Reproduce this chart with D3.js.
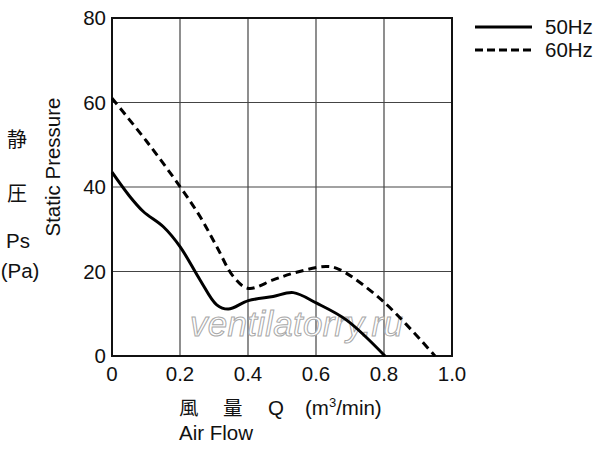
<!DOCTYPE html>
<html>
<head>
<meta charset="utf-8">
<script src="https://cdn.jsdelivr.net/npm/d3@7"></script>
<style>
  body { margin: 0; background: #fff; }
  text { font-family: "Liberation Sans", Arial, sans-serif; fill: #111; }
  .cjk { font-family: "Noto Sans CJK JP", sans-serif; }
</style>
</head>
<body>
<script>
// air flow (m3/min) vs static pressure (Pa)
var flow50 = [0, 0.05, 0.092, 0.151, 0.2, 0.259, 0.308, 0.342, 0.401, 0.474, 0.533, 0.602, 0.69, 0.803]
var pres50 = [43.5, 38, 34.2, 30.6, 25.9, 18, 12.1, 11.1, 13.1, 14.1, 15, 12.5, 8.5, 0]

var flow60 = [0, 0.1, 0.2, 0.259, 0.308, 0.357, 0.401, 0.474, 0.533, 0.631, 0.671, 0.798, 0.95]
var pres60 = [61, 51, 40.1, 33, 25.9, 18.8, 16, 18, 19.6, 21.2, 20.4, 12.9, 0]

var xTicks = [0, 0.2, 0.4, 0.6, 0.8, 1.0]
var yTicks = [0, 20, 40, 60, 80]
var seriesNames = ["50Hz", "60Hz"]

var width = 600, height = 449
var margin = { top: 18, right: 148, bottom: 93, left: 112 }

var svg = d3.select("body").append("svg")
  .attr("width", width)
  .attr("height", height)

var x = d3.scaleLinear().domain([0, 1]).range([margin.left, width - margin.right])
var y = d3.scaleLinear().domain([0, 80]).range([height - margin.bottom, margin.top])

// grid
var grid = svg.append("g")
grid.selectAll(".vx").data(xTicks.slice(1, -1)).enter().append("line")
  .attr("x1", function(d) { return x(d) }).attr("x2", function(d) { return x(d) })
  .attr("y1", y(0)).attr("y2", y(80))
  .style("stroke", "#444").style("stroke-width", 1.2)
grid.selectAll(".hy").data(yTicks.slice(1, -1)).enter().append("line")
  .attr("x1", x(0)).attr("x2", x(1))
  .attr("y1", function(d) { return y(d) }).attr("y2", function(d) { return y(d) })
  .style("stroke", "#444").style("stroke-width", 1.2)

// frame
svg.append("rect")
  .attr("x", x(0)).attr("y", y(80))
  .attr("width", x(1) - x(0)).attr("height", y(0) - y(80))
  .style("fill", "none").style("stroke", "#111").style("stroke-width", 2)

// tick labels
svg.append("g").selectAll("text").data(yTicks).enter().append("text")
  .attr("x", x(0) - 6)
  .attr("y", function(d) { return y(d) + 7 })
  .attr("text-anchor", "end")
  .attr("font-size", "20.5px")
  .text(function(d) { return d })

var fmt = d3.format(".1f")
svg.append("g").selectAll("text").data(xTicks).enter().append("text")
  .attr("x", function(d) { return x(d) })
  .attr("y", 381)
  .attr("text-anchor", "middle")
  .attr("font-size", "20.5px")
  .text(function(d) { return d === 0 ? "0" : fmt(d) })

// watermark
svg.append("text")
  .attr("x", 190).attr("y", 336)
  .attr("font-size", "35px")
  .attr("font-style", "italic")
  .attr("textLength", 213)
  .style("fill", "#fff")
  .style("stroke", "#a8a8a8")
  .style("stroke-width", 1)
  .text("ventilatorry.ru")

// curves
var line = d3.line()
  .x(function(d) { return x(d[0]) })
  .y(function(d) { return y(d[1]) })
  .curve(d3.curveCatmullRom.alpha(0.5))

svg.append("path")
  .datum(d3.zip(flow50, pres50))
  .attr("d", line)
  .style("fill", "none").style("stroke", "#000").style("stroke-width", 3)

svg.append("path")
  .datum(d3.zip(flow60, pres60))
  .attr("d", line)
  .style("fill", "none").style("stroke", "#000").style("stroke-width", 3)
  .style("stroke-dasharray", "8,5")

// legend
var legend = svg.append("g").selectAll("g").data(seriesNames).enter().append("g")
  .attr("transform", function(d, i) { return "translate(475," + (27 + i * 23) + ")" })
legend.append("line")
  .attr("x1", 0).attr("x2", 57)
  .style("stroke", "#000").style("stroke-width", 3)
  .style("stroke-dasharray", function(d, i) { return i ? "8,4" : null })
legend.append("text")
  .attr("x", 70).attr("y", 7)
  .attr("font-size", "20.5px")
  .text(function(d) { return d })

// y axis title
svg.append("text")
  .attr("transform", "translate(60,167) rotate(-90)")
  .attr("text-anchor", "middle")
  .attr("font-size", "20.5px")
  .text("Static Pressure")
svg.append("text").attr("class", "cjk").attr("x", 17).attr("y", 147)
  .attr("text-anchor", "middle").attr("font-size", "20px").text("静")
svg.append("text").attr("class", "cjk").attr("x", 17).attr("y", 201)
  .attr("text-anchor", "middle").attr("font-size", "20px").text("圧")
svg.append("text").attr("x", 18).attr("y", 248)
  .attr("text-anchor", "middle").attr("font-size", "20.5px").text("Ps")
svg.append("text").attr("x", 20).attr("y", 278)
  .attr("text-anchor", "middle").attr("font-size", "20.5px").text("(Pa)")

// x axis title
svg.append("text").attr("class", "cjk").attr("x", 179).attr("y", 415)
  .attr("font-size", "19.5px").text("風")
svg.append("text").attr("class", "cjk").attr("x", 223).attr("y", 415)
  .attr("font-size", "19.5px").text("量")
var xt = svg.append("text").attr("x", 268).attr("y", 415).attr("font-size", "20.5px")
xt.append("tspan").text("Q")
xt.append("tspan").attr("x", 305).text("(m")
xt.append("tspan").attr("font-size", "13px").attr("dy", -8).text("3")
xt.append("tspan").attr("dy", 8).text("/min)")
svg.append("text").attr("x", 179).attr("y", 440)
  .attr("font-size", "20.5px").text("Air Flow")
</script>
</body>
</html>
